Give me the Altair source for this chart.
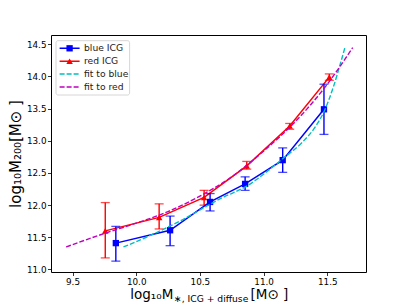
import altair as alt
import pandas as pd

# ---- data ----
blue_x = [9.84, 10.266, 10.58, 10.855, 11.15, 11.474]
blue_y = [11.41, 11.61, 12.05, 12.33, 12.70, 13.49]
blue_lo = [11.13, 11.37, 11.91, 12.23, 12.51, 13.10]
blue_hi = [11.67, 11.83, 12.18, 12.44, 12.89, 13.88]

red_x = [9.757, 10.18, 10.533, 10.868, 11.205, 11.516]
red_y = [11.60, 11.81, 12.12, 12.61, 13.23, 13.99]
red_lo = [11.18, 11.63, 12.00, 12.56, 13.18, 13.94]
red_hi = [12.04, 12.02, 12.23, 12.68, 13.27, 14.04]

fitb_x = [9.90, 10.10, 10.35, 10.66, 10.87, 11.155, 11.30, 11.40, 11.48, 11.55, 11.60, 11.64]
fitb_y = [11.35, 11.52, 11.76, 12.10, 12.30, 12.73, 12.97, 13.20, 13.48, 13.85, 14.18, 14.46]

fitr_x = [9.45, 9.75, 10.0, 10.25, 10.5, 10.75, 11.0, 11.25, 11.5, 11.7]
fitr_y = [11.35, 11.56, 11.72, 11.90, 12.14, 12.44, 12.84, 13.30, 13.88, 14.45]

x_ticks = [9.5, 10.0, 10.5, 11.0, 11.5]
y_ticks = [11.0, 11.5, 12.0, 12.5, 13.0, 13.5, 14.0, 14.5]

legend_labels = ["blue ICG", "red ICG", "fit to blue", "fit to red"]

BLUE = "#0000ff"
RED = "#ff0000"
CYAN = "#00bfbf"
MAG = "#bf00bf"
FONT = "DejaVu Sans"

blue = pd.DataFrame({"x": blue_x, "y": blue_y, "lo": blue_lo, "hi": blue_hi})
red = pd.DataFrame({"x": red_x, "y": red_y, "lo": red_lo, "hi": red_hi})
fitb = pd.DataFrame({"x": fitb_x, "y": fitb_y})
fitr = pd.DataFrame({"x": fitr_x, "y": fitr_y})

xs = alt.Scale(domain=[9.331, 11.804], nice=False, zero=False)
ys = alt.Scale(domain=[10.961, 14.645], nice=False, zero=False)
x_axis = alt.Axis(values=x_ticks, format=".1f", title=None)
y_axis = alt.Axis(values=y_ticks, format=".1f", title="log₁₀M₂₀₀[M⊙ ]")


def Xf(field):
    return alt.X(field, type="quantitative", scale=xs, axis=x_axis)


def Yf(field):
    return alt.Y(field, type="quantitative", scale=ys, axis=y_axis)


def fit_line(df, color):
    return alt.Chart(df).mark_line(color=color, strokeWidth=1.4, strokeDash=[5, 2],
                                   interpolate="monotone").encode(x=Xf("x"), y=Yf("y"))


def series(df, color, shape, size):
    err = alt.Chart(df).mark_rule(color=color, strokeWidth=1.4).encode(
        x=Xf("x"), y=Yf("lo"), y2="hi:Q")
    cap_lo = alt.Chart(df).mark_tick(color=color, orient="horizontal", size=9,
                                     thickness=1.3).encode(x=Xf("x"), y=Yf("lo"))
    cap_hi = alt.Chart(df).mark_tick(color=color, orient="horizontal", size=9,
                                     thickness=1.3).encode(x=Xf("x"), y=Yf("hi"))
    line = alt.Chart(df).mark_line(color=color, strokeWidth=1.5).encode(x=Xf("x"), y=Yf("y"))
    pts = alt.Chart(df).mark_point(shape=shape, filled=True, color=color, size=size,
                                   opacity=1).encode(x=Xf("x"), y=Yf("y"))
    return [err, cap_lo, cap_hi, line, pts]


layers = []
layers += series(red, RED, "triangle-up", 42)
layers += series(blue, BLUE, "square", 40)
layers += [fit_line(fitb, CYAN), fit_line(fitr, MAG)]

# ---- legend (manual, upper-left box) ----
lx0, lx1, ltx = 8.6, 28.6, 33.0
ly0, lstep = 13.3, 12.9
leg = pd.DataFrame({
    "label": legend_labels,
    "ly": [ly0 + i * lstep for i in range(4)],
    "color": [BLUE, RED, CYAN, MAG],
    "dash": ["solid", "solid", "dash", "dash"],
})
leg_box = alt.Chart(pd.DataFrame({"a": [0]})).mark_rect(
    fill="white", stroke="#cccccc", strokeWidth=0.8, cornerRadius=2).encode(
    x=alt.value(5), x2=alt.value(78.6), y=alt.value(5.7), y2=alt.value(60))
leg_lines = alt.Chart(leg).mark_rule(strokeWidth=1.5).encode(
    x=alt.value(lx0), x2=alt.value(lx1),
    y=alt.Y("ly:Q", scale=None),
    color=alt.Color("color:N", scale=None, legend=None),
    strokeDash=alt.StrokeDash("dash:N", scale=alt.Scale(domain=["solid", "dash"],
                                                        range=[[1, 0], [5, 2]]),
                              legend=None))
leg_sq = alt.Chart(leg.iloc[[0]]).mark_point(shape="square", filled=True, size=40,
                                             opacity=1, color=BLUE).encode(
    x=alt.value((lx0 + lx1) / 2), y=alt.Y("ly:Q", scale=None))
leg_tri = alt.Chart(leg.iloc[[1]]).mark_point(shape="triangle-up", filled=True, size=42,
                                              opacity=1, color=RED).encode(
    x=alt.value((lx0 + lx1) / 2), y=alt.Y("ly:Q", scale=None))
leg_txt = alt.Chart(leg).mark_text(align="left", baseline="middle", font=FONT,
                                   fontSize=9.2, color="#222222").encode(
    x=alt.value(ltx), y=alt.Y("ly:Q", scale=None), text="label:N")

# ---- x-axis title with subscript ----
t_base = alt.Chart(pd.DataFrame({"a": [0]}))
xt1 = t_base.mark_text(text="log₁₀M", align="right", baseline="alphabetic",
                       font=FONT, fontSize=13.5).encode(x=alt.value(122.3), y=alt.value(264))
xt2 = t_base.mark_text(text="∗, ICG + diffuse", align="left", baseline="alphabetic",
                       font=FONT, fontSize=9.2).encode(x=alt.value(123), y=alt.value(267))
xt3 = t_base.mark_text(text="[M⊙ ]", align="left", baseline="alphabetic",
                       font=FONT, fontSize=13.5).encode(x=alt.value(199.5), y=alt.value(264))

chart = alt.layer(*layers, leg_box, leg_lines, leg_sq, leg_tri, leg_txt, xt1, xt2, xt3).properties(
    width=315, height=237,
    autosize=alt.AutoSizeParams(type="none"),
    padding={"left": 43, "top": 27, "right": 30, "bottom": 33},
    background="white",
).configure_view(stroke="black", strokeWidth=1).configure_axis(
    domain=False, grid=False, tickColor="black", tickSize=3.5, tickWidth=0.8,
    labelColor="black", labelFont=FONT, labelFontSize=8.8, labelPadding=1.5,
    labelOverlap=False,
    titleFont=FONT, titleFontSize=15, titleFontWeight="normal", titleColor="black",
    titlePadding=3,
)

chart.save("out.html", embed_options={"renderer": "svg", "actions": False})
